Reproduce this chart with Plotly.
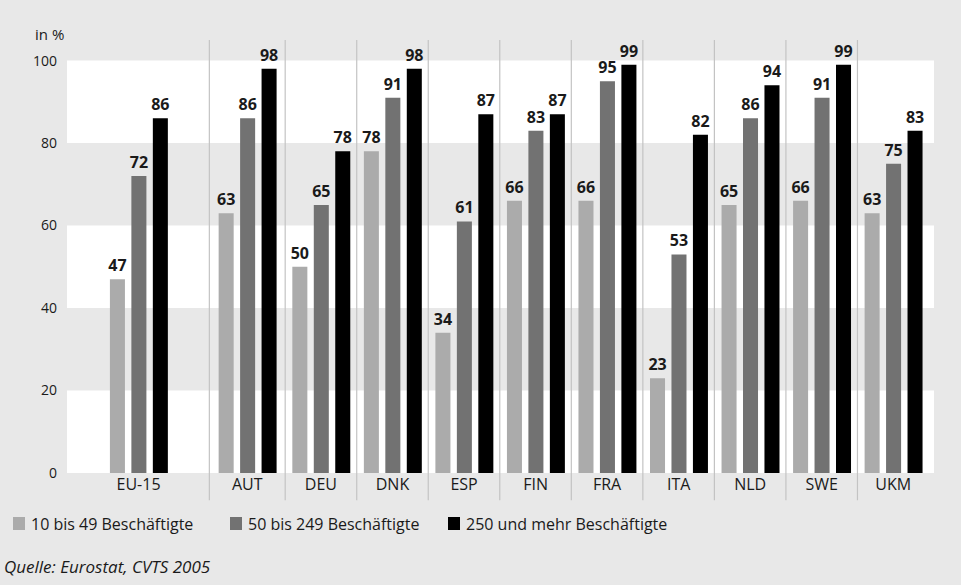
import plotly.graph_objects as go

# ---- data ----
categories = ["EU-15", "AUT", "DEU", "DNK", "ESP", "FIN", "FRA", "ITA", "NLD", "SWE", "UKM"]
series_names = ["10 bis 49 Beschäftigte", "50 bis 249 Beschäftigte", "250 und mehr Beschäftigte"]
small = [47, 63, 50, 78, 34, 66, 66, 23, 65, 66, 63]
medium = [72, 86, 65, 91, 61, 83, 95, 53, 86, 91, 75]
large = [86, 98, 78, 98, 87, 87, 99, 82, 94, 99, 83]
y_ticks = [0, 20, 40, 60, 80, 100]
title_text = "Weiterbildende Unternehmen nach Größenklassen (2005)"
unit_label = "in %"
source_text = "Quelle: Eurostat, CVTS 2005"

# ---- style ----
colors = ["#ababab", "#727272", "#000000"]
paper = "#e8e8e8"
font_main = "Open Sans, DejaVu Sans, sans-serif"
text_col = "#1a1a1a"

# category centre positions (EU-15 occupies a wider cell)
centers = [0.95, 2.47] + [i + 0.5 for i in range(3, 3 + len(categories) - 2)]
separators = [1.94] + list(range(3, 12))
offsets = [-0.40, -0.10, 0.20]
bar_w = 0.21

fig = go.Figure()
for vals, name, col, off in zip([small, medium, large], series_names, colors, offsets):
    fig.add_trace(go.Bar(
        x=centers, y=vals, name=name, width=bar_w, offset=off,
        marker=dict(color=col, line=dict(width=0)),
        text=[str(v) for v in vals], textposition="outside", constraintext="none",
        textfont=dict(family=font_main, size=16, color=text_col, weight="bold"),
        cliponaxis=False, showlegend=False, hoverinfo="skip",
    ))

shapes = []
# white horizontal bands
for lo in (0, 40, 80):
    shapes.append(dict(type="rect", xref="paper", yref="y", x0=0, x1=1, y0=lo, y1=lo + 20,
                       fillcolor="white", line=dict(width=0), layer="below"))
# vertical separators
for s in separators:
    shapes.append(dict(type="line", xref="x", yref="paper", x0=s, x1=s, y0=-0.063, y1=1,
                       line=dict(color="#c3c3c3", width=1.2), layer="above"))

L, W, T, H = 67, 867, 40, 433
def px_x(p):
    return (p - L) / W
def px_y(p):
    return (T + H - p) / H

# manual legend
legend_x = [13, 230, 448]  # pixel positions of the swatches
annotations = []
for lx, name, col in zip(legend_x, series_names, colors):
    shapes.append(dict(type="rect", xref="paper", yref="paper",
                       x0=px_x(lx), x1=px_x(lx + 12), y0=px_y(530), y1=px_y(517),
                       fillcolor=col, line=dict(width=0)))
    annotations.append(dict(text=name, xref="paper", yref="paper", x=px_x(lx + 16), y=px_y(523.5),
                            xanchor="left", yanchor="middle", showarrow=False,
                            font=dict(family=font_main, size=16, color=text_col)))

annotations.append(dict(text=unit_label, xref="paper", yref="paper", x=px_x(33), y=px_y(34),
                        xanchor="left", yanchor="middle", showarrow=False,
                        font=dict(family=font_main, size=15, color=text_col)))
annotations.append(dict(text="<i>" + source_text + "</i>", xref="paper", yref="paper", x=px_x(2), y=px_y(566),
                        xanchor="left", yanchor="middle", showarrow=False,
                        font=dict(family=font_main, size=17, color=text_col)))
annotations.append(dict(text="<b>" + title_text + "</b>", xref="paper", yref="paper", x=px_x(480), y=px_y(4),
                        xanchor="center", yanchor="bottom", showarrow=False,
                        font=dict(family=font_main, size=17, color=text_col)))

fig.update_layout(
    width=961, height=585,
    margin=dict(l=L, r=961 - L - W, t=T, b=585 - T - H, pad=0),
    paper_bgcolor=paper, plot_bgcolor=paper,
    shapes=shapes, annotations=annotations,
    showlegend=False,
    xaxis=dict(range=[-0.05, 12.07], tickvals=centers, ticktext=categories,
               showgrid=False, zeroline=False, showline=False, ticks="",
               tickfont=dict(family=font_main, size=16, color=text_col), fixedrange=True),
    yaxis=dict(range=[0, 105], tickvals=y_ticks, showgrid=False, zeroline=False, showline=False,
               ticks="", ticklabelstandoff=9,
               tickfont=dict(family=font_main, size=14, color=text_col), fixedrange=True),
    font=dict(family=font_main, color=text_col),
)

fig.write_html("out.html", config=dict(displayModeBar=False),
               post_script="document.body.style.margin='0';document.body.style.overflow='hidden';")
